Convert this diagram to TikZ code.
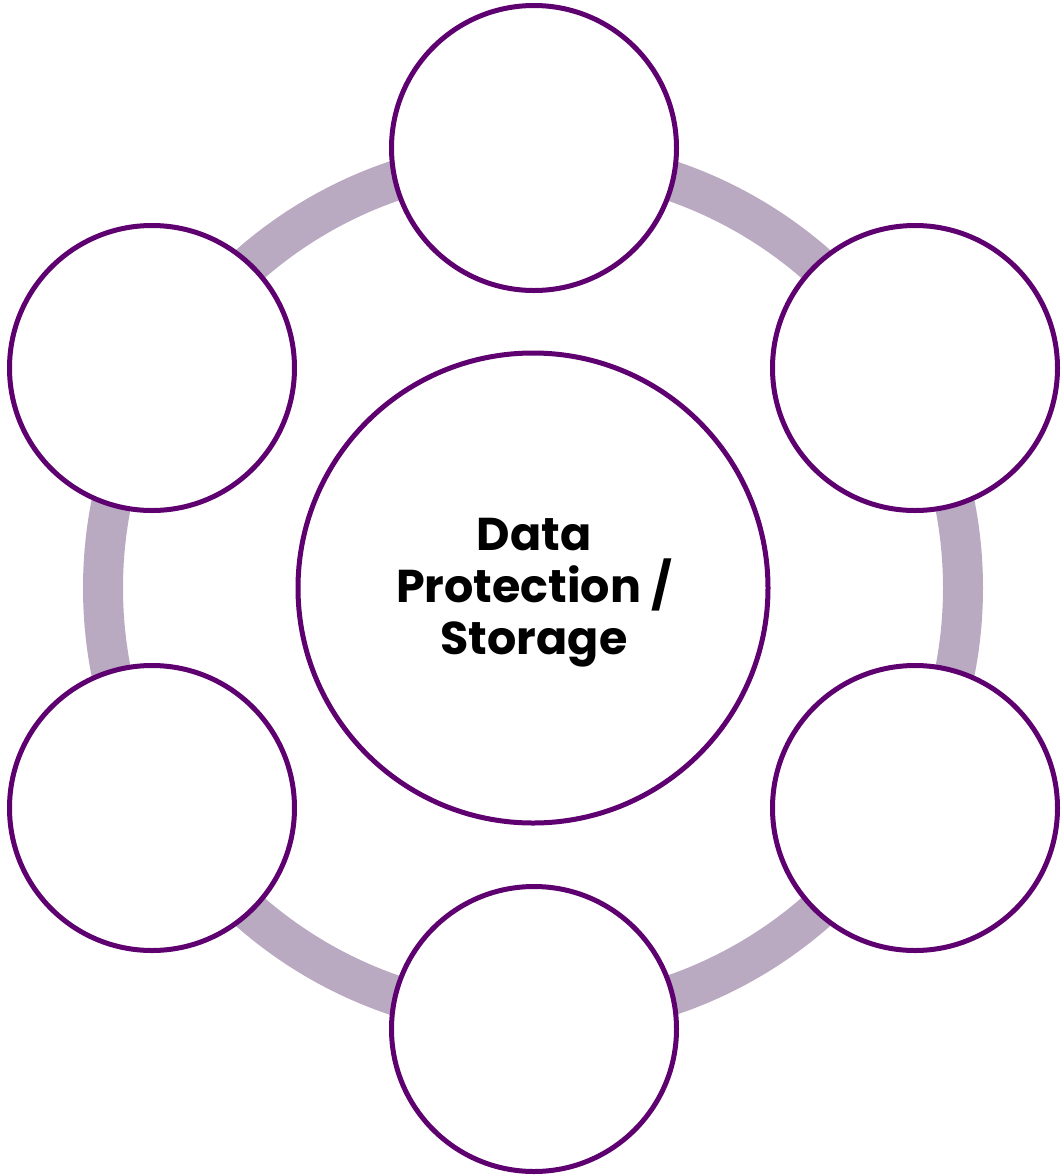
\documentclass[tikz,border=0pt]{standalone}
\usepackage{fontspec}
\setmainfont{Poppins}
\definecolor{ringc}{HTML}{B9A9C1}
\definecolor{edgec}{HTML}{5F0070}
\begin{document}
\begin{tikzpicture}[x=1pt,y=-1pt,
  smallc/.style={circle,draw=edgec,line width=5pt,fill=white,minimum size=285pt,inner sep=0pt},
  bigc/.style={circle,draw=edgec,line width=5pt,fill=white,minimum size=470pt,inner sep=0pt},
  lbltext/.style={align=center,inner sep=0pt,font=\fontsize{46}{52}\selectfont\bfseries}]
\useasboundingbox (0,0) rectangle (1061,1176);
\coordinate (o) at (533,588);
\draw[ringc,line width=40pt] (o) circle[radius=430pt];
\node[smallc] (t) at (534,148) {};
\node[smallc] (ul) at (152,368) {};
\node[smallc] (ur) at (915,368) {};
\node[smallc] (ll) at (152,808) {};
\node[smallc] (lr) at (915,808) {};
\node[smallc] (b) at (534,1029) {};
\node[bigc] (c) at (o) {};
\node[lbltext] (lbl) at (534,593) {Data\\Protection /\\Storage};
\end{tikzpicture}
\end{document}
